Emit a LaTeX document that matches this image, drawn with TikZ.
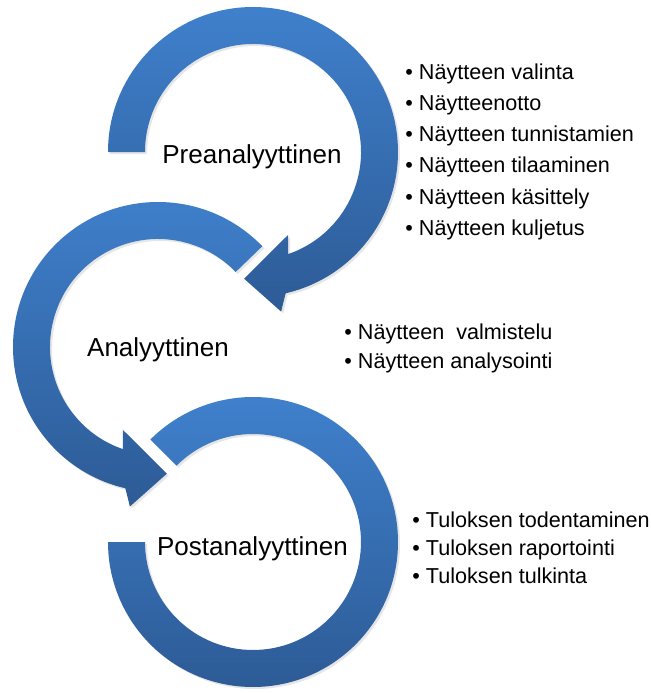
\documentclass[tikz,border=0pt]{standalone}
\usepackage{fontspec}
\setmainfont{Liberation Sans}
\usepackage{xcolor}
\usepackage{tikz}
\usetikzlibrary{calc, shadows}

\definecolor{ringtop}{HTML}{3F80CC}
\definecolor{ringbot}{HTML}{2D5B96}

\tikzset{
ring/.style={top color=ringtop, bottom color=ringbot, draw=none, drop shadow={opacity=0.2, shadow xshift=1pt, shadow yshift=-1pt}},
title/.style={font=\fontsize{13}{15}\selectfont, inner sep=0pt, anchor=base},
items/.style={align=left, inner sep=0pt, anchor=base west}
}

\begin{document}
\begin{tikzpicture}[x=0.5pt, y=0.5pt]
\useasboundingbox (0,0) rectangle (651,693);

\coordinate (c1) at (253,541);
\coordinate (c2) at (158,346);
\coordinate (c3) at (253,151);

\path[ring] ($(c3)+(180:145)$) arc[start angle=180, end angle=495, radius=145] -- ($(c3)+(135:108)$) arc[start angle=495, end angle=180, radius=108] -- cycle;

\path[ring] ($(c2)+(44:145)$) arc[start angle=44, end angle=257, radius=145] -- ($(c2)+(260:162)$) -- ($(c2)+(274:127)$) -- ($(c2)+(247:90)$) -- ($(c2)+(251:108)$) arc[start angle=251, end angle=44, radius=108] -- cycle;

\path[ring] ($(c1)+(180:145)$) arc[start angle=180, end angle=-77, radius=145] -- ($(c1)+(-80:162)$) -- ($(c1)+(-94:127)$) -- ($(c1)+(-67:90)$) -- ($(c1)+(-71:108)$) arc[start angle=-71, end angle=180, radius=108] -- cycle;

\node (pre)[title] at (252,530) {Preanalyyttinen};
\node (ana)[title] at (158,336) {Analyyttinen};
\node (post)[title] at (252.5,138) {Postanalyyttinen};

\node (prelist)[items, font=\fontsize{10.8}{15.65}\selectfont] at (405,457.5) {• Näytteen valinta\\• Näytteenotto\\• Näytteen tunnistamien\\• Näytteen tilaaminen\\• Näytteen käsittely\\• Näytteen kuljetus};

\node (analist)[items, font=\fontsize{10.8}{15}\selectfont] at (344,324) {• Näytteen\ \ valmistelu\\• Näytteen analysointi};

\node (postlist)[items, font=\fontsize{10.8}{14}\selectfont] at (412,110) {• Tuloksen todentaminen\\• Tuloksen raportointi\\• Tuloksen tulkinta};

\end{tikzpicture}
\end{document}
